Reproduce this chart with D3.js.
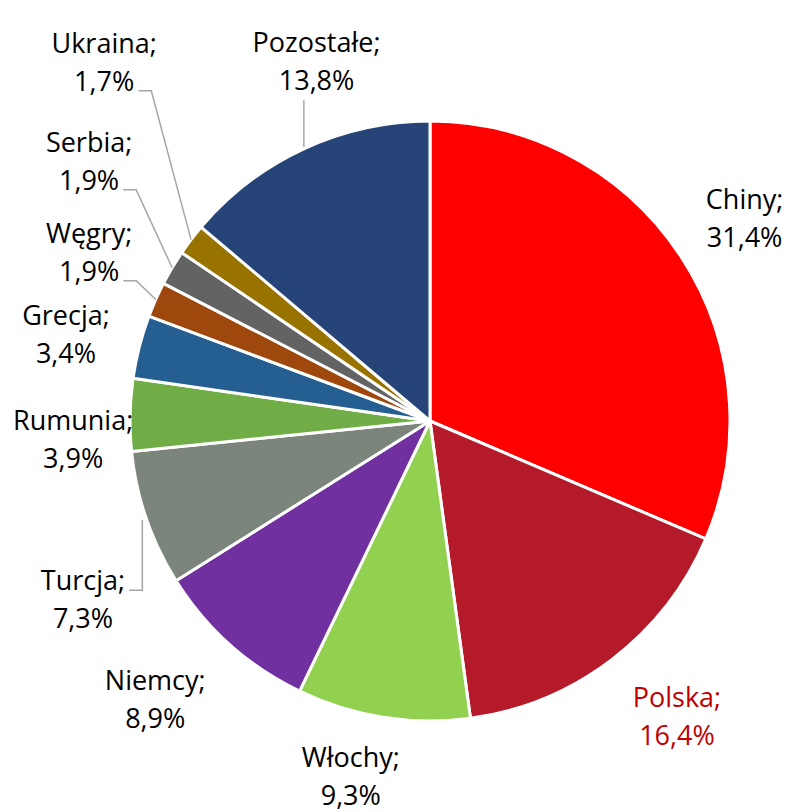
<!DOCTYPE html>
<html><head><meta charset="utf-8">
<script src="https://cdn.jsdelivr.net/npm/d3@7"></script>
<style>html,body{margin:0;padding:0;background:#fff;}svg{display:block;}</style>
</head><body>
<svg id="chart" width="789" height="812"></svg>
<script>
const categories = ["Chiny","Polska","Włochy","Niemcy","Turcja","Rumunia","Grecja","Węgry","Serbia","Ukraina","Pozostałe"];
const values = [31.4,16.4,9.3,8.9,7.3,3.9,3.4,1.9,1.9,1.7,13.8];
const colors = ["#FF0000","#B41A2A","#92D050","#7030A0","#7C857B","#70AD47","#255E91","#9E480E","#636363","#997300","#264478"];
const labelColors = ["#000","#C00000","#000","#000","#000","#000","#000","#000","#000","#000","#000"];
// label placement: [angle in degrees clockwise from top, distance as multiple of radius]
const labelPolar = [[56.0,1.265],[139.2,1.26],[192.9,1.183],[225.6,1.282],[244.0,1.287],[268.6,1.19],[284.8,1.255],[297.6,1.282],[308.3,1.448],[318.5,1.639],[342.9,1.286]];
// leader line type per label
const leaders = [null,null,null,null,"below",null,null,"side","side","side","up"];

const svg = d3.select("#chart");
const cx = 430, cy = 421, R = 300;
const g = svg.append("g").attr("transform", `translate(${cx},${cy})`);
const pie = d3.pie().sort(null).value(d => d)(values);
const arc = d3.arc().innerRadius(0).outerRadius(R);

g.selectAll("path").data(pie).join("path")
  .attr("d", arc)
  .attr("fill", (d,i) => colors[i])
  .attr("stroke", "#fff").attr("stroke-width", 3).attr("stroke-linejoin","round");

const font = "'Open Sans', sans-serif";
const fs = 27, lh = 38;
const polar = (ang, r) => [r*Math.sin(ang*Math.PI/180), -r*Math.cos(ang*Math.PI/180)];

pie.forEach((d,i) => {
  const [lx, ly] = polar(labelPolar[i][0], labelPolar[i][1]*R);
  const t = g.append("text")
    .attr("font-family", font).attr("font-size", fs)
    .attr("fill", labelColors[i]).attr("text-anchor","middle");
  const t1 = t.append("tspan").attr("x", lx).attr("y", ly).text(categories[i] + ";");
  const t2 = t.append("tspan").attr("x", lx).attr("y", ly + lh).text(values[i].toFixed(1).replace(".", ",") + "%");
  const type = leaders[i];
  if (!type) return;
  const mid = (d.startAngle + d.endAngle)/2 * 180/Math.PI;
  const [ax, ay] = polar(mid, R);
  let pts;
  if (type === "side") {
    const w = t2.node().getComputedTextLength();
    const ex = lx + w/2 + 4, ey = ly + lh;
    pts = [[ax, ay],[ex + 13, ey],[ex, ey]];
  } else if (type === "below") {
    const w = t1.node().getComputedTextLength();
    const ex = lx + w/2 + 4, ey = ly;
    pts = [[ax - 4, ay + 1],[ax - 4, ey],[ex, ey]];
  } else {
    pts = [[ax, ay - 2],[ax, ly + lh + 10]];
  }
  g.append("path").attr("d", d3.line()(pts))
    .attr("fill","none").attr("stroke","#A6A6A6").attr("stroke-width",1.5);
});
</script>
</body></html>
